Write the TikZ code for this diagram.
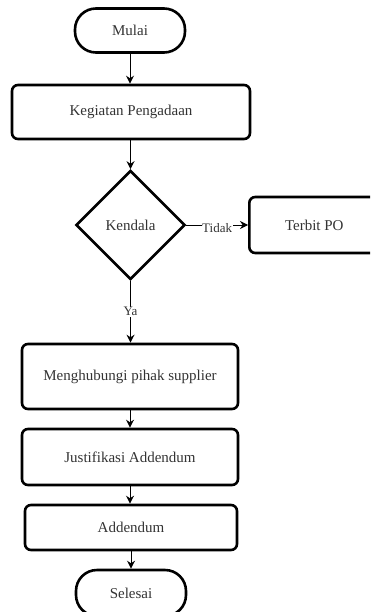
\documentclass[tikz,border=0pt]{standalone}
\usepackage{fontspec}
\setmainfont{Liberation Serif}
\usetikzlibrary{arrows.meta,shapes.geometric}
\begin{document}
\begin{tikzpicture}[x=1pt,y=-1pt,
  every node/.style={font=\fontsize{15}{17}\selectfont, text=black!80},
  proc/.style={draw, line width=2.6pt, rounded corners=6pt, minimum width=#1, inner sep=0pt},
  term/.style={draw, line width=2.6pt, rounded corners=21pt, minimum width=110pt, minimum height=44pt, inner sep=0pt},
  dec/.style={draw, line width=2.6pt, diamond, minimum width=109pt, minimum height=109pt, inner sep=0pt, aspect=1},
  arr/.style={-{Stealth[length=8pt,width=8pt]}, line width=1pt},
  lab/.style={fill=white, inner sep=0.5pt, font=\fontsize{13}{15}\selectfont}
]
\useasboundingbox (0,0) rectangle (370,612);
\clip (0,0) rectangle (370,612);
\node[term] (mulai) at (130,30.5) {Mulai};
\node[proc=238pt, minimum height=54pt] (keg) at (131,112) {Kegiatan Pengadaan};
\node[dec] (ken) at (130.5,225) {Kendala};
\node[proc=130pt, minimum height=56pt, anchor=west] (po) at (248,225) {Terbit PO};
\node[proc=216pt, minimum height=65pt] (hub) at (130,376.5) {Menghubungi pihak supplier};
\node[proc=216pt, minimum height=56pt] (jus) at (130,457) {Justifikasi Addendum};
\node[proc=212pt, minimum height=45pt] (add) at (131,527.5) {Addendum};
\node[term, minimum height=46pt] (sel) at (131,593) {Selesai};
\draw[arr] (mulai) -- (mulai|-keg.north);
\draw[arr] (keg.south-|ken) -- (ken.north);
\draw[arr] (ken.east) -- node[lab, yshift=-3pt]{Tidak} (po.west);
\draw[arr] (ken.south) -- node[lab]{Ya} (ken|-hub.north);
\draw[arr] (hub) -- (hub|-jus.north);
\draw[arr] (jus.south) -- (jus|-add.north);
\draw[arr] (add.south) -- (add|-sel.north);
\end{tikzpicture}
\end{document}
